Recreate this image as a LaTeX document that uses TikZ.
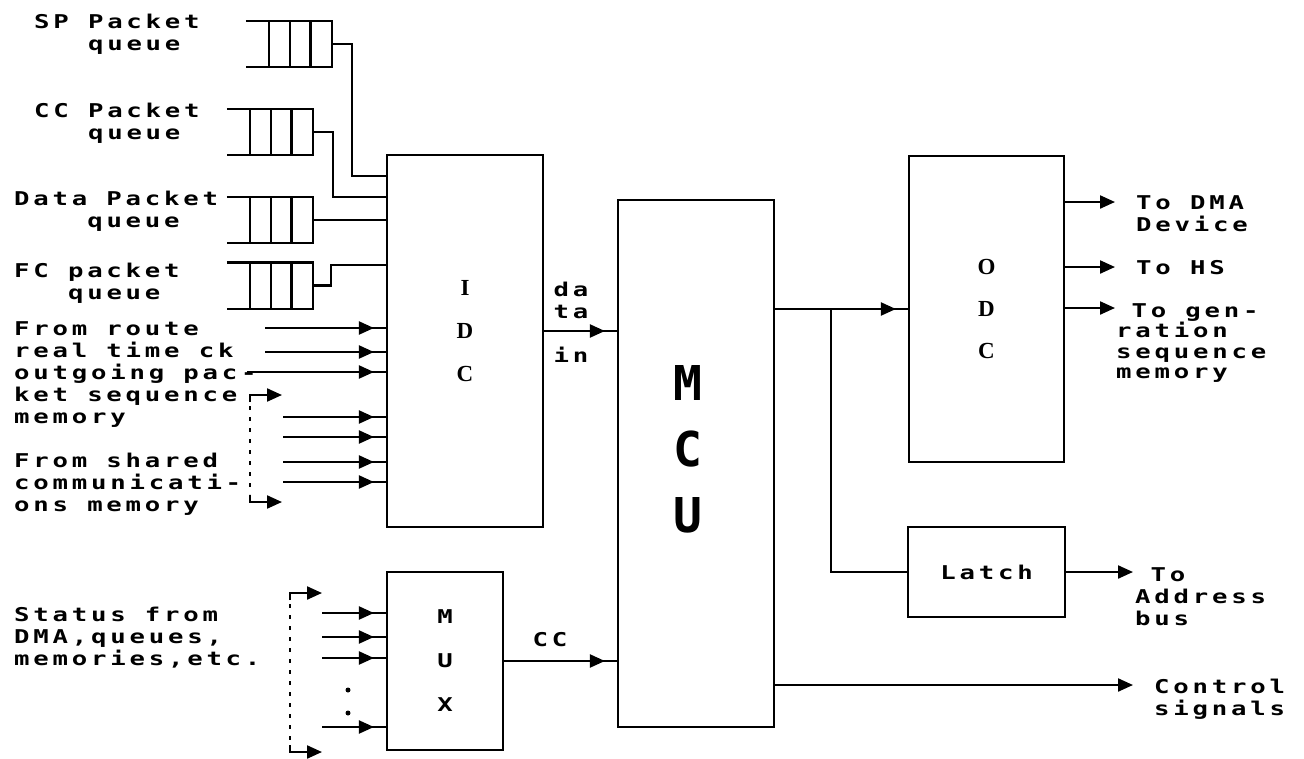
\documentclass[tikz,border=0pt]{standalone}
\usepackage{fontspec}
\usetikzlibrary{arrows.meta, positioning, calc, decorations.markings}
\newfontfamily\pixfont[FakeStretch=1.35, LetterSpace=20]{DejaVu Sans Mono Bold}
\newfontfamily\serfont{Liberation Serif Bold}
\newfontfamily\bigfont{DejaVu Sans Mono Bold}
\tikzset{
  every picture/.style={line width=2.2pt},
  box/.style={draw, inner sep=0pt},
  queue/.style={minimum width=84pt, minimum height=44pt, inner sep=0pt},
  pix/.style={font=\pixfont\fontsize{19}{22}\selectfont, inner sep=0pt, align=left},
  boxtag/.style={font=\serfont\fontsize{23}{43}\selectfont, inner sep=0pt, align=center},
  muxtag/.style={font=\pixfont\fontsize{19}{44}\selectfont, align=center},
  mcutag/.style={font=\bigfont\fontsize{48}{66}\selectfont, inner sep=0pt, align=center},
  feed/.style={postaction={decorate}, decoration={markings, mark=at position -12pt with {\arrow{Triangle[length=15pt, width=13pt]}}}},
  outarr/.style={-{Triangle[length=15pt, width=13pt]}},
  dotline/.style={dash pattern=on 4pt off 7pt},
}
\begin{document}
\begin{tikzpicture}[x=1pt, y=-1pt]
  \useasboundingbox (0,0) rectangle (1304,758);
  % blocks
  \node[box, minimum width=156pt, minimum height=372pt] (idc) at (465,341) {};
  \node[box, minimum width=156pt, minimum height=527pt] (mcu) at (696,463.5) {};
  \node[box, boxtag, minimum width=155pt, minimum height=306pt, font=\serfont\fontsize{23}{42}\selectfont] (odc) at (986.5,309) {O\\D\\C};
  \node[box, pix, align=center, minimum width=157pt, minimum height=90pt] (latch) at (986.5,572) {Latch};
  \node[box, muxtag, minimum width=116pt, minimum height=178pt] (mux) at (445,661) {M\\U\\X};
  \node[boxtag] (idctxt) at (465,331.5) {I\\D\\C};
  \node[mcutag] (mcutxt) at (688,449) {M\\C\\U};
  % queues
  \node[queue] (qsp) at (289,44) {};
  \node[queue] (qcc) at (270,132) {};
  \node[queue] (qdat) at (270,220) {};
  \node[queue] (qfc) at (270,285.5) {};
  \foreach \q in {qsp,qcc,qdat,qfc} {
    \draw (\q.north west) -- (\q.north east) -- (\q.south east) -- (\q.south west);
    \foreach \f in {0.27,0.51,0.75}
      \draw ($(\q.north west)!\f!(\q.north east)$) -- ($(\q.south west)!\f!(\q.south east)$);
  }
  \draw (qsp.east) -- ++(20,0) |- (idc.west |- 0,176);
  \draw (qcc.east) -- ++(20,0) |- (idc.west |- 0,197);
  \draw (qdat.east) -- (idc.west |- qdat.east);
  \draw (qfc.east) -- ++(18,0) |- (idc.west |- 0,265);
  % labels left
  \node[pix, anchor=west] (lsp) at (33,34) {SP Packet\\\hphantom{SPP}queue};
  \node[pix, anchor=west] (lcc) at (33,123) {CC Packet\\\hphantom{CCP}queue};
  \node[pix, anchor=west] (ldat) at (13,211.5) {Data Packet\\\hphantom{Data}queue};
  \node[pix, anchor=west] (lfc) at (13,283) {FC packet\\\hphantom{FCp}queue};
  \node[pix, anchor=west] (lin) at (13,418.4) {From route\\real time ck\\outgoing pac-\\ket sequence\\memory\\[22pt]From shared\\communicati-\\ons memory};
  \node[pix, anchor=west] (lstat) at (13,638) {Status from\\DMA,queues,\\memories,etc.};
  % inputs to IDC
  \foreach \x/\y [count=\i] in {265/328, 265/352, 247/372, 283/417, 283/437, 283/462, 283/482} {
    \coordinate (src\i) at (\x,\y);
    \draw[feed] (src\i) -- (idc.west |- src\i);
  }
  \coordinate (brtop) at (282,395);
  \coordinate (brbot) at (282,502);
  \draw[dotline] (250,406) -- (250,494);
  \draw[outarr] (250,402) |- (brtop);
  \draw[outarr] (250,495) |- (brbot);
  % inputs to MUX
  \foreach \y [count=\i] in {613,637,658,727} {
    \coordinate (st\i) at (322,\y);
    \draw[feed] (st\i) -- (mux.west |- st\i);
  }
  \coordinate (mxtop) at (322,593);
  \coordinate (mxbot) at (322,752);
  \draw[dotline] (290,604) -- (290,744);
  \draw[outarr] (290,600) |- (mxtop);
  \draw[outarr] (290,745) |- (mxbot);
  \fill (348,690) circle (2.5pt);
  \fill (348,713) circle (2.5pt);
  % into MCU
  \draw[feed] (mux.east) -- (mcu.west |- mux.east);
  \node[pix] (lcc) at (550,640) {CC};
  \draw[feed] (idc.east |- 0,331) -- (mcu.west |- 0,331);
  \node[pix, align=center] (ldata) at (571,300) {da\\ta};
  \node[pix] (lindata) at (571,355) {in};
  % out of MCU
  \draw[feed] (mcu.east |- odc.west) -- (odc.west);
  \coordinate (tap) at ($(mcu.east |- odc.west)!0.42!(odc.west)$);
  \draw (tap) |- (latch.west);
  \coordinate (addr) at (1133,572);
  \draw[outarr] (latch.east) -- (addr);
  \coordinate (ctl) at (1133,685);
  \draw[outarr] (mcu.east |- ctl) -- (ctl);
  \foreach \y [count=\i] in {202,267,308} {
    \coordinate (odo\i) at (1115,\y);
    \draw[outarr] (odc.east |- odo\i) -- (odo\i);
  }
  % labels right
  \node[pix, anchor=west] (ldma) at (1135,213.8) {To DMA\\Device};
  \node[pix, anchor=west] (lhs) at (1135,268) {To HS};
  \node[pix, anchor=west, font=\pixfont\fontsize{19}{20.5}\selectfont] (lgen) at (1115,343) {\hphantom{x}To gen-\\ration\\sequence\\memory};
  \node[pix, anchor=west] (laddr) at (1134,597) {\hphantom{x}To\\Address\\bus};
  \node[pix, anchor=west] (lctl) at (1153,699) {Control\\signals};
\end{tikzpicture}
\end{document}
